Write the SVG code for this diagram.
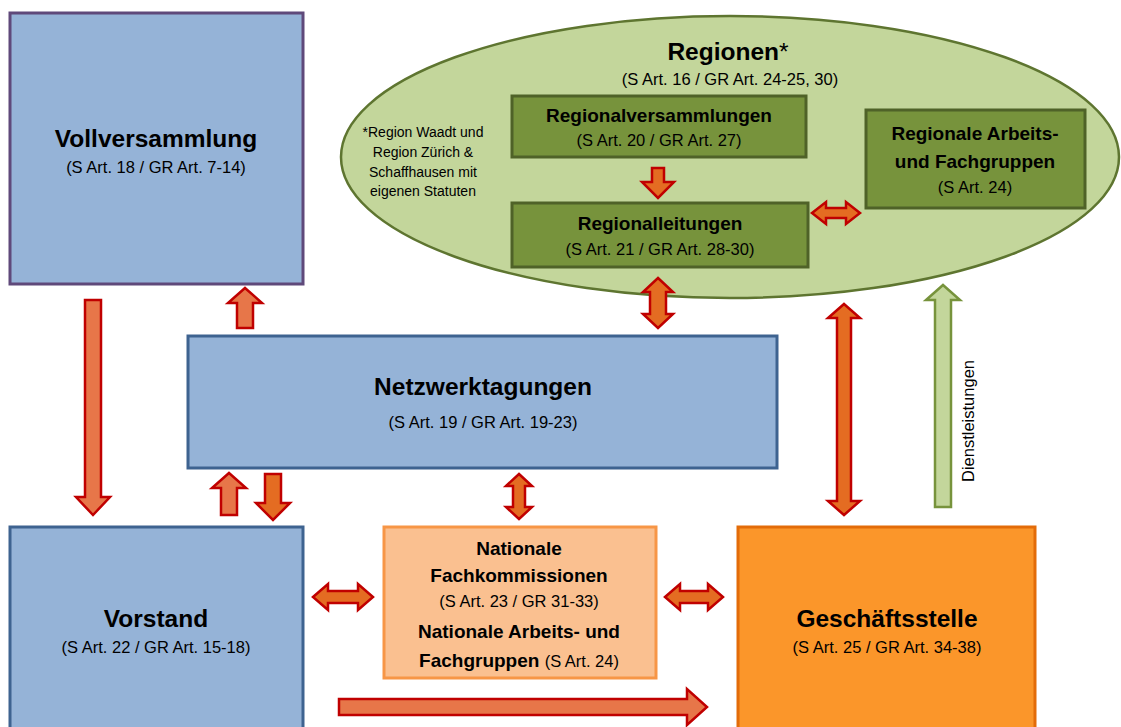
<svg xmlns="http://www.w3.org/2000/svg" width="1121" height="727" viewBox="0 0 1121 727">
<style>
text{font-family:"Liberation Sans",Arial,sans-serif;fill:#000;text-anchor:middle}
.t1{font-size:24.5px;font-weight:bold}
.t2{font-size:19px;font-weight:bold}
.sub{font-size:16.5px}
.note{font-size:14px}
.blue{fill:#95B3D7;stroke:#3E6390;stroke-width:3}
.dg{fill:#77933C;stroke:#4F6228;stroke-width:3}
.arr{fill:#E46C22;stroke:#C00000;stroke-width:2.5;stroke-linejoin:miter}
.arrl{fill:#E77649;stroke:#C00000;stroke-width:2.5;stroke-linejoin:miter}
</style>
<rect width="1121" height="727" fill="#fff"/>
<g id="regionen">
<ellipse cx="730" cy="157" rx="389" ry="141" fill="#C3D69B" stroke="#5E7530" stroke-width="2.5"/>
<text x="728" y="60" class="t1">Regionen<tspan font-weight="normal">*</tspan></text>
<text x="730" y="85" class="sub">(S Art. 16 / GR Art. 24-25, 30)</text>
<text class="note" x="423" y="137">*Region Waadt und</text>
<text class="note" x="423" y="157">Region Zürich &amp;</text>
<text class="note" x="423" y="177">Schaffhausen mit</text>
<text class="note" x="423" y="196">eigenen Statuten</text>
</g>
<g id="vollversammlung">
<rect x="10" y="13" width="293" height="271" fill="#95B3D7" stroke="#5F497A" stroke-width="3"/>
<text x="156" y="147" class="t1">Vollversammlung</text>
<text x="156" y="173" class="sub">(S Art. 18 / GR Art. 7-14)</text>
</g>
<g id="regionalversammlungen">
<rect x="512" y="96" width="294" height="61" class="dg"/>
<text x="659" y="122" class="t2">Regionalversammlungen</text>
<text x="659" y="146" class="sub">(S Art. 20 / GR Art. 27)</text>
</g>
<g id="regionalleitungen">
<rect x="512" y="203" width="296" height="64" class="dg"/>
<text x="660" y="230" class="t2">Regionalleitungen</text>
<text x="660" y="255" class="sub">(S Art. 21 / GR Art. 28-30)</text>
</g>
<g id="regionale-arbeitsgruppen">
<rect x="866" y="110" width="219" height="98" class="dg"/>
<text x="975" y="140" class="t2">Regionale Arbeits-</text>
<text x="975" y="168" class="t2">und Fachgruppen</text>
<text x="975" y="193" class="sub">(S Art. 24)</text>
</g>
<g id="netzwerktagungen">
<rect x="188" y="336" width="589" height="132" class="blue"/>
<text x="483" y="395" class="t1">Netzwerktagungen</text>
<text x="483" y="428" class="sub">(S Art. 19 / GR Art. 19-23)</text>
</g>
<g id="vorstand">
<rect x="10" y="527" width="293" height="215" class="blue"/>
<text x="156" y="627" class="t1">Vorstand</text>
<text x="156" y="653" class="sub">(S Art. 22 / GR Art. 15-18)</text>
</g>
<g id="nationale">
<rect x="384" y="527" width="272" height="151" fill="#FAC090" stroke="#F79646" stroke-width="3"/>
<text x="519" y="555" class="t2">Nationale</text>
<text x="519" y="582" class="t2">Fachkommissionen</text>
<text x="519" y="607" class="sub">(S Art. 23 / GR 31-33)</text>
<text x="519" y="638" class="t2">Nationale Arbeits- und</text>
<text x="519" y="667" class="t2">Fachgruppen <tspan class="sub" font-weight="normal">(S Art. 24)</tspan></text>
</g>
<g id="geschaeftsstelle">
<rect x="738" y="527" width="297" height="215" fill="#FB962A" stroke="#E36C09" stroke-width="3"/>
<text x="887" y="627" class="t1">Geschäftsstelle</text>
<text x="887" y="653" class="sub">(S Art. 25 / GR Art. 34-38)</text>
</g>
<g id="connectors">
<polygon class="arrl" points="85,300 101,300 101,497 110,497 93,515 76,497 85,497"/>
<polygon class="arrl" points="245,288 262,303 253,303 253,328 237,328 237,303 228,303"/>
<polygon class="arrl" points="229,473 246,488 237,488 237,515 221,515 221,488 212,488"/>
<polygon class="arr" points="265,474 281,474 281,503 290,503 273,520 256,503 265,503"/>
<polygon class="arr" points="519,474 532,486 525,486 525,507 532,507 519,519 506,507 513,507 513,486 506,486"/>
<polygon class="arr" points="658,278 673,292 666,292 666,314 673,314 658,328 643,314 650,314 650,292 643,292"/>
<polygon class="arr" points="844,304 860,318 851,318 851,501 860,501 844,515 828,501 837,501 837,318 828,318"/>
<polygon class="arr" points="652,168 664,168 664,182 674,182 658,198 642,182 652,182"/>
<polygon class="arr" points="812,213 826,202 826,208 846,208 846,202 860,213 846,224 846,218 826,218 826,224"/>
<polygon class="arr" points="313,597 328,584 328,591 358,591 358,584 373,597 358,610 358,603 328,603 328,610"/>
<polygon class="arr" points="665,597 680,584 680,591 708,591 708,584 723,597 708,610 708,603 680,603 680,610"/>
<polygon class="arrl" points="339,699 687,699 687,689 707,707 687,725 687,715 339,715"/>
<polygon points="943,285 960,300 951,300 951,507 935,507 935,300 926,300" fill="#C3D69B" stroke="#77933C" stroke-width="2.5"/>
<text x="0" y="0" transform="translate(974,421) rotate(-90)" style="font-size:16.5px">Dienstleistungen</text>
</g>
</svg>
